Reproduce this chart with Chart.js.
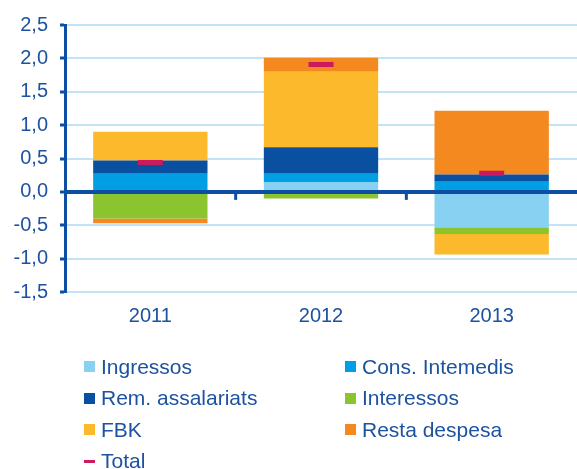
<!DOCTYPE html>
<html>
<head>
<meta charset="utf-8">
<script src="https://cdn.jsdelivr.net/npm/chart.js@4"></script>
<style>
  html, body { margin: 0; padding: 0; background: #fff; overflow: hidden; }
  #wrap { position: relative; width: 577px; height: 469px; overflow: hidden; }
  #legend {
    position: absolute; left: 84px; top: 351px;
    display: grid; grid-template-columns: 261px 220px;
    grid-auto-rows: 31.5px;
    font-family: "Liberation Sans", Arial, sans-serif; font-size: 21px; color: #1d52a0;
  }
  .item { display: flex; align-items: center; white-space: nowrap; }
  .sw { width: 11px; height: 11px; margin-right: 6px; flex: none; }
  .dash { width: 11px; height: 3px; margin-right: 6px; flex: none; }
</style>
</head>
<body>
<div id="wrap">
  <canvas id="chart" width="577" height="469"></canvas>
  <div id="legend"></div>
</div>
<script>
// dades llegides del gràfic
const years = ['2011', '2012', '2013'];
const ingressos = [0.0, 0.14, -0.53];
const consIntermedis = [0.27, 0.13, 0.15];
const remAssalariats = [0.20, 0.40, 0.11];
const interessos = [-0.40, -0.10, -0.10];
const fbk = [0.43, 1.13, -0.31];
const restaDespesa = [-0.07, 0.21, 0.955];
const total = [0.44, 1.91, 0.28];
const yTicks = ['2,5', '2,0', '1,5', '1,0', '0,5', '0,0', '-0,5', '-1,0', '-1,5'];

const textColor = '#1d52a0';
const axisColor = '#0b4ea2';
const gridColor = '#c2e4f6';

const series = [
    { label: 'Ingressos', data: ingressos, color: '#89d1f2' },
    { label: 'Cons. Intemedis', data: consIntermedis, color: '#009fe3' },
    { label: 'Rem. assalariats', data: remAssalariats, color: '#0a50a1' },
    { label: 'Interessos', data: interessos, color: '#8ac42f' },
    { label: 'FBK', data: fbk, color: '#fdb92c' },
    { label: 'Resta despesa', data: restaDespesa, color: '#f3891f' }
];

const datasets = series.map(s => ({
    type: 'bar',
    label: s.label,
    data: s.data,
    backgroundColor: s.color,
    borderWidth: 0,
    barPercentage: 0.67,
    categoryPercentage: 1,
    stack: 'comp',
    order: 1
}));

datasets.push({
    type: 'line',
    label: 'Total',
    data: total,
    showLine: false,
    pointStyle: 'line',
    pointRadius: 12.5,
    pointHoverRadius: 12.5,
    pointBorderWidth: 5,
    borderColor: '#cc1a5e',
    backgroundColor: '#cc1a5e',
    stack: 'total',
    order: 0
});

// línia del zero i marques entre categories
const zeroLine = {
    id: 'zeroLine',
    afterDatasetsDraw(chart) {
        const { ctx, chartArea, scales } = chart;
        const y0 = scales.y.getPixelForValue(0);
        ctx.save();
        ctx.strokeStyle = axisColor;
        ctx.lineWidth = 4;
        ctx.beginPath();
        ctx.moveTo(chartArea.left, y0);
        ctx.lineTo(chartArea.right, y0);
        ctx.stroke();
        ctx.lineWidth = 3;
        for (let i = 0; i < years.length - 1; i++) {
            const x = (scales.x.getPixelForValue(i) + scales.x.getPixelForValue(i + 1)) / 2;
            ctx.beginPath();
            ctx.moveTo(x, y0);
            ctx.lineTo(x, y0 + 8);
            ctx.stroke();
        }
        ctx.restore();
    }
};

const ctx = document.getElementById('chart').getContext('2d');
new Chart(ctx, {
    data: { labels: years, datasets: datasets },
    options: {
        responsive: false,
        animation: false,
        layout: { autoPadding: false, padding: { top: 25, right: 0, bottom: 137, left: 0 } },
        plugins: {
            legend: { display: false },
            tooltip: { enabled: false }
        },
        scales: {
            x: {
                stacked: true,
                grid: { display: false },
                border: { display: false },
                ticks: {
                    color: textColor,
                    padding: 4,
                    font: { family: 'Liberation Sans', size: 20 }
                }
            },
            y: {
                stacked: true,
                min: -1.5,
                max: 2.5,
                afterFit: scale => { scale.width = 65; },
                afterBuildTicks: scale => {
                    scale.ticks = yTicks.map(t => ({ value: parseFloat(t.replace(',', '.')) }));
                },
                grid: {
                    color: gridColor,
                    lineWidth: 2,
                    tickColor: axisColor,
                    tickWidth: 3,
                    tickLength: 5
                },
                border: { color: axisColor, width: 3 },
                ticks: {
                    color: textColor,
                    padding: 12,
                    font: { family: 'Liberation Sans', size: 20 },
                    callback: v => v.toFixed(1).replace('.', ',')
                }
            }
        }
    },
    plugins: [zeroLine]
});

// llegenda en dues columnes
const legendEl = document.getElementById('legend');
series.forEach(s => {
    legendEl.insertAdjacentHTML('beforeend',
        `<div class="item"><span class="sw" style="background:${s.color}"></span>${s.label}</div>`);
});
legendEl.insertAdjacentHTML('beforeend',
    `<div class="item"><span class="dash" style="background:#cc1a5e"></span>Total</div>`);
</script>
</body>
</html>
